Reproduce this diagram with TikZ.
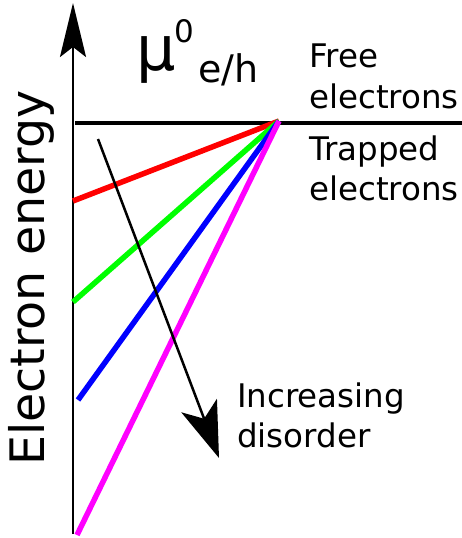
\documentclass[tikz,border=0pt]{standalone}
\usepackage{fontspec}
\setmainfont{DejaVu Sans}
\usetikzlibrary{arrows.meta}
\definecolor{lred}{RGB}{255,0,0}
\definecolor{lgreen}{RGB}{0,255,0}
\definecolor{lblue}{RGB}{0,0,255}
\definecolor{lmag}{RGB}{255,0,255}
\begin{document}
\begin{tikzpicture}[x=1pt,y=-1pt,
  lbl/.style={anchor=base west,inner sep=0pt,font=\fontsize{32.5}{38}\selectfont},
  level/.style={line width=5.5pt},
  axis/.style={line width=2.5pt}]
\useasboundingbox (0,0) rectangle (462,538);
% coordinates
\coordinate (axb) at (73,534);
\coordinate (axt) at (73,3);
\coordinate (hl) at (75,123);
\coordinate (hr) at (462,123);
\coordinate (c) at (279,121);
\coordinate (r0) at (73,201);
\coordinate (g0) at (73,302);
\coordinate (b0) at (78,400);
\coordinate (m0) at (77,535);
\coordinate (as) at (98,139);
\coordinate (ae) at (219,458);
% axis
\draw[axis,-{Stealth[length=54pt,width=26pt,inset=10pt]}] (axb) -- (axt);
\draw[line width=4pt] (hl) -- (hr);
% levels
\draw[level,lred] (r0) -- (c);
\draw[level,lgreen] (g0) -- (c);
\draw[level,lblue] (b0) -- (c);
\draw[level,lmag] (m0) -- (c);
% disorder arrow
\draw[axis,-{Stealth[length=56pt,width=38pt,inset=14pt]}] (as) -- (ae);
% labels
\node[lbl,font=\fontsize{47.5}{50}\selectfont,rotate=90] (ee) at (44,466) {Electron energy};
\node[lbl,font=\fontsize{62}{66}\selectfont] (mu) at (136,70) {μ};
\node[lbl,font=\fontsize{31}{34}\selectfont] (mu0) at (174,42) {0};
\node[lbl,font=\fontsize{38}{42}\selectfont] (mueh) at (198,82) {e/h};
\node[lbl] (f1) at (309,67) {Free};
\node[lbl] (f2) at (309,108) {electrons};
\node[lbl] (t1) at (309,160) {Trapped};
\node[lbl] (t2) at (309,200) {electrons};
\node[lbl] (i1) at (237,407) {Increasing};
\node[lbl] (i2) at (237,447) {disorder};
\end{tikzpicture}
\end{document}
